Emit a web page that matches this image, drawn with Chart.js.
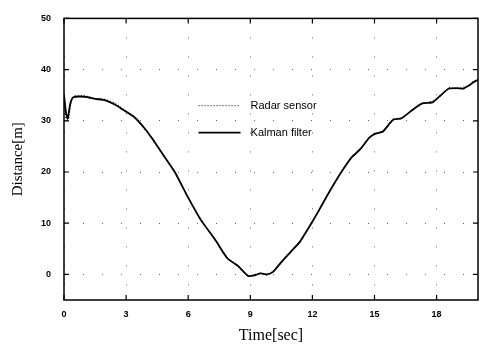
<!DOCTYPE html>
<html>
<head>
<meta charset="utf-8">
<style>
  html, body { margin: 0; padding: 0; background: #fff; }
  #wrap { width: 485px; height: 346px; }
</style>
</head>
<body>
<div id="wrap"><canvas id="distChart" width="485" height="346"></canvas></div>
<script src="https://cdn.jsdelivr.net/npm/chart.js"></script>
<script>
  // data
  const kalmanTime = [0, 0.1, 0.18, 0.3, 0.45, 1.0, 1.5, 2.0, 2.5, 2.8, 3.4, 3.9, 4.3, 4.7, 5.35, 6.0, 6.6, 7.3, 7.9, 8.4, 8.9, 9.2, 9.5, 9.8, 10.1, 10.5, 11.0, 11.4, 12.0, 12.3, 12.7, 13.15, 13.6, 13.9, 14.3, 14.75, 15.0, 15.4, 15.9, 16.3, 16.8, 17.3, 17.8, 18.2, 18.6, 19.0, 19.3, 19.6, 19.8, 20.0];
  const kalmanDist = [35.0, 31.5, 30.4, 33.3, 34.6, 34.7, 34.3, 34.0, 33.1, 32.3, 30.7, 28.5, 26.3, 23.9, 20.0, 15.0, 10.7, 6.8, 3.1, 1.7, -0.3, -0.2, 0.2, 0.0, 0.5, 2.4, 4.6, 6.4, 10.3, 12.4, 15.3, 18.4, 21.2, 22.9, 24.4, 26.7, 27.4, 27.9, 30.2, 30.5, 32.0, 33.4, 33.6, 35.0, 36.3, 36.4, 36.3, 37.0, 37.6, 38.0];

  const radarTime = [0, 0.08, 0.15, 0.22, 0.35, 0.5, 1.0, 1.5, 2.0, 2.5, 2.8, 3.4, 3.9, 4.3, 4.7, 5.35, 6.0, 6.6, 7.3, 7.9, 8.4, 8.9, 9.2, 9.5, 9.8, 10.1, 10.5, 11.0, 11.4, 12.0, 12.3, 12.7, 13.15, 13.6, 13.9, 14.3, 14.75, 15.0, 15.4, 15.9, 16.3, 16.8, 17.3, 17.8, 18.2, 18.6, 19.0, 19.3, 19.6, 19.8, 20.0];
  const radarDist = [36.0, 30.5, 29.8, 30.2, 33.8, 34.9, 34.9, 34.4, 34.2, 33.4, 32.5, 30.9, 28.3, 26.6, 23.7, 20.2, 14.8, 10.9, 6.6, 3.3, 1.5, -0.5, 0.0, 0.3, -0.2, 0.6, 2.2, 4.8, 6.2, 10.5, 12.2, 15.5, 18.2, 21.4, 22.7, 24.6, 26.5, 27.6, 27.7, 30.4, 30.3, 32.2, 33.2, 33.9, 34.8, 36.5, 36.2, 36.6, 36.8, 37.8, 37.9];

  const xTicks = [0, 3, 6, 9, 12, 15, 18];
  const yTicks = [0, 10, 20, 30, 40, 50];

  const legendItems = [
    { label: 'Radar sensor', dash: [1, 2], width: 1 },
    { label: 'Kalman filter', dash: [], width: 1.8 }
  ];

  const toPoints = (ts, ds) => ts.map((t, i) => ({ x: t, y: ds[i] }));

  // box, inward ticks and legend drawn on top of the plot
  const framePlugin = {
    id: 'frame',
    afterDatasetsDraw(chart) {
      const { ctx, chartArea: a, scales: { x, y } } = chart;
      ctx.save();
      ctx.strokeStyle = '#000';
      ctx.lineWidth = 1.5;
      ctx.strokeRect(a.left, a.top, a.right - a.left, a.bottom - a.top);
      ctx.lineWidth = 1.2;
      ctx.beginPath();
      xTicks.forEach(v => {
        const px = x.getPixelForValue(v);
        ctx.moveTo(px, a.bottom); ctx.lineTo(px, a.bottom - 5);
        ctx.moveTo(px, a.top); ctx.lineTo(px, a.top + 5);
      });
      yTicks.forEach(v => {
        const py = y.getPixelForValue(v);
        ctx.moveTo(a.left, py); ctx.lineTo(a.left + 5, py);
        ctx.moveTo(a.right, py); ctx.lineTo(a.right - 5, py);
      });
      ctx.stroke();

      // legend
      const lx = a.left + (a.right - a.left) * 0.325;
      let ly = a.top + (a.bottom - a.top) * 0.31;
      ctx.font = '11px "Liberation Sans", Arial, sans-serif';
      ctx.fillStyle = '#000';
      ctx.textBaseline = 'middle';
      legendItems.forEach(item => {
        ctx.beginPath();
        ctx.setLineDash(item.dash);
        ctx.lineWidth = item.width;
        ctx.moveTo(lx, ly); ctx.lineTo(lx + 42, ly);
        ctx.stroke();
        ctx.setLineDash([]);
        ctx.fillText(item.label, lx + 52, ly);
        ly += 27;
      });
      ctx.restore();
    }
  };

  new Chart(document.getElementById('distChart'), {
    type: 'line',
    data: {
      datasets: [
        {
          label: 'Radar sensor',
          data: toPoints(radarTime, radarDist),
          borderColor: '#000',
          borderWidth: 1,
          borderDash: [1, 2],
          pointRadius: 0,
          tension: 0
        },
        {
          label: 'Kalman filter',
          data: toPoints(kalmanTime, kalmanDist),
          borderColor: '#000',
          borderWidth: 1.8,
          pointRadius: 0,
          tension: 0.2
        }
      ]
    },
    options: {
      responsive: false,
      animation: false,
      layout: { padding: { top: 10, right: 7, left: 0, bottom: 0 } },
      plugins: { legend: { display: false }, tooltip: { enabled: false } },
      scales: {
        x: {
          type: 'linear',
          min: 0,
          max: 20,
          afterBuildTicks: s => { s.ticks = xTicks.map(v => ({ value: v })); },
          afterFit: s => { s.height = 46; },
          grid: { color: '#666', lineWidth: 1, drawTicks: false },
          border: { display: false, dash: [1, 18] },
          ticks: { color: '#000', padding: 9, font: { family: '"Liberation Sans", Arial', size: 9, weight: 'bold' } },
          title: {
            display: true,
            text: 'Time[sec]',
            color: '#000',
            padding: { top: 0, bottom: 1 },
            font: { family: '"Liberation Serif", "Times New Roman", serif', size: 16 }
          }
        },
        y: {
          min: -5,
          max: 50,
          afterBuildTicks: s => { s.ticks = yTicks.map(v => ({ value: v })); },
          afterFit: s => { s.width = 64; },
          grid: { color: '#666', lineWidth: 1, drawTicks: false },
          border: { display: false, dash: [1, 18] },
          ticks: { color: '#000', padding: 13, font: { family: '"Liberation Sans", Arial', size: 9, weight: 'bold' } },
          title: {
            display: true,
            text: 'Distance[m]',
            color: '#000',
            padding: { top: 9, bottom: 0 },
            font: { family: '"Liberation Serif", "Times New Roman", serif', size: 15 }
          }
        }
      }
    },
    plugins: [framePlugin]
  });
</script>
</body>
</html>
